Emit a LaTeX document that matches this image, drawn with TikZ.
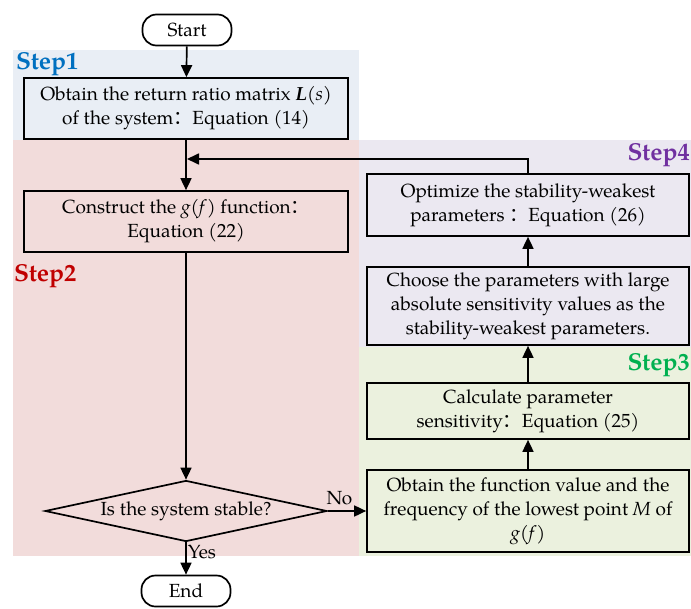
\documentclass[tikz,border=0pt]{standalone}
\usepackage{fontspec}
\setmainfont{TeX Gyre Pagella}
\newfontfamily\cjk{Noto Sans CJK SC}
\usetikzlibrary{arrows.meta,
                shapes.geometric,
                positioning}

\definecolor{bgone}{HTML}{E9EEF5}
\definecolor{bgtwo}{HTML}{F2DCDB}
\definecolor{bgthree}{HTML}{EBF1DE}
\definecolor{bgfour}{HTML}{EBE8F1}
\definecolor{colone}{HTML}{0070C0}
\definecolor{coltwo}{HTML}{C00000}
\definecolor{colthree}{HTML}{00B050}
\definecolor{colfour}{HTML}{7030A0}

\newcommand{\fwc}{{\cjk ：}}

\begin{document}
\begin{tikzpicture}[x=1pt, y=-1pt, font=\fontsize{19}{24}\selectfont,
        box/.style={draw, line width=1.7pt, align=center, inner sep=0pt},
        term/.style={draw, line width=1.7pt, rounded corners=14pt, minimum width=89pt, minimum height=31pt, inner sep=0pt},
        flow/.style={-{Triangle[length=12pt, width=11pt]}, line width=1.7pt},
        steplabel/.style={font=\fontsize{24.5}{26}\selectfont\bfseries, inner sep=0pt}]
        \useasboundingbox (0, 0) rectangle (691, 608);

        % coloured step areas
        \fill [bgone] (13, 50) rectangle (359, 140);
        \fill [bgtwo] (13, 140) rectangle (359, 556);
        \fill [bgfour] (359, 140) rectangle (691, 347);
        \fill [bgthree] (359, 347) rectangle (691, 556);

        \node [steplabel, text=colone, anchor=west] (stepone) at (16, 64) {Step1};
        \node [steplabel, text=coltwo, anchor=west] (steptwo) at (14, 276) {Step2};
        \node [steplabel, text=colthree, anchor=east] (stepthree) at (690, 365) {Step3};
        \node [steplabel, text=colfour, anchor=east] (stepfour) at (690, 155) {Step4};

        % left column
        \node [term] (start) at (187, 30) {Start};
        \node [box, minimum width=324pt, minimum height=61pt] (ret) at (186, 108.5)
            {Obtain the return ratio matrix \textbf{\textit{L}}(\textit{s})\\of the system\fwc Equation (14)};
        \node [box, minimum width=324pt, minimum height=61pt] (gfun) at (186, 221.5)
            {Construct the \textit{g}(\textit{f}) function\fwc\\Equation (22)};
        \node [draw, diamond, line width=1.7pt, minimum width=282pt, minimum height=61pt, inner sep=0pt, aspect=4.6] (stable) at (186, 511)
            {Is the system stable?};
        \node [term] (stop) at (186, 591) {End};

        % right column
        \node [box, minimum width=322pt, minimum height=62pt] (opt) at (528, 205)
            {Optimize the stability-weakest\\parameters \fwc Equation (26)};
        \node [box, minimum width=322pt, minimum height=78pt] (choose) at (528, 306)
            {Choose the parameters with large\\absolute sensitivity values as the\\stability-weakest parameters.};
        \node [box, minimum width=322pt, minimum height=56pt] (calc) at (528, 411)
            {Calculate parameter\\sensitivity\fwc Equation (25)};
        \node [box, minimum width=322pt, minimum height=82pt] (lowest) at (528, 511)
            {Obtain the function value and the\\frequency of the lowest point \textit{M} of\\\textit{g}(\textit{f})};

        \coordinate (merge) at (187, 159);

        \draw [flow] (start) -- (ret);
        \draw [flow] (ret) -- (gfun);
        \draw [flow] (gfun) -- (stable);
        \draw [flow] (stable) -- node [above, pos=0.3, yshift=2pt] (no) {No} (lowest);
        \draw [flow] (stable) -- node [right, pos=0.3, inner sep=1pt] (yes) {Yes} (stop);
        \draw [flow] (lowest) -- (calc);
        \draw [flow] (calc) -- (choose);
        \draw [flow] (choose) -- (opt);
        \draw [flow] (opt.north) |- (merge);
\end{tikzpicture}
\end{document}
